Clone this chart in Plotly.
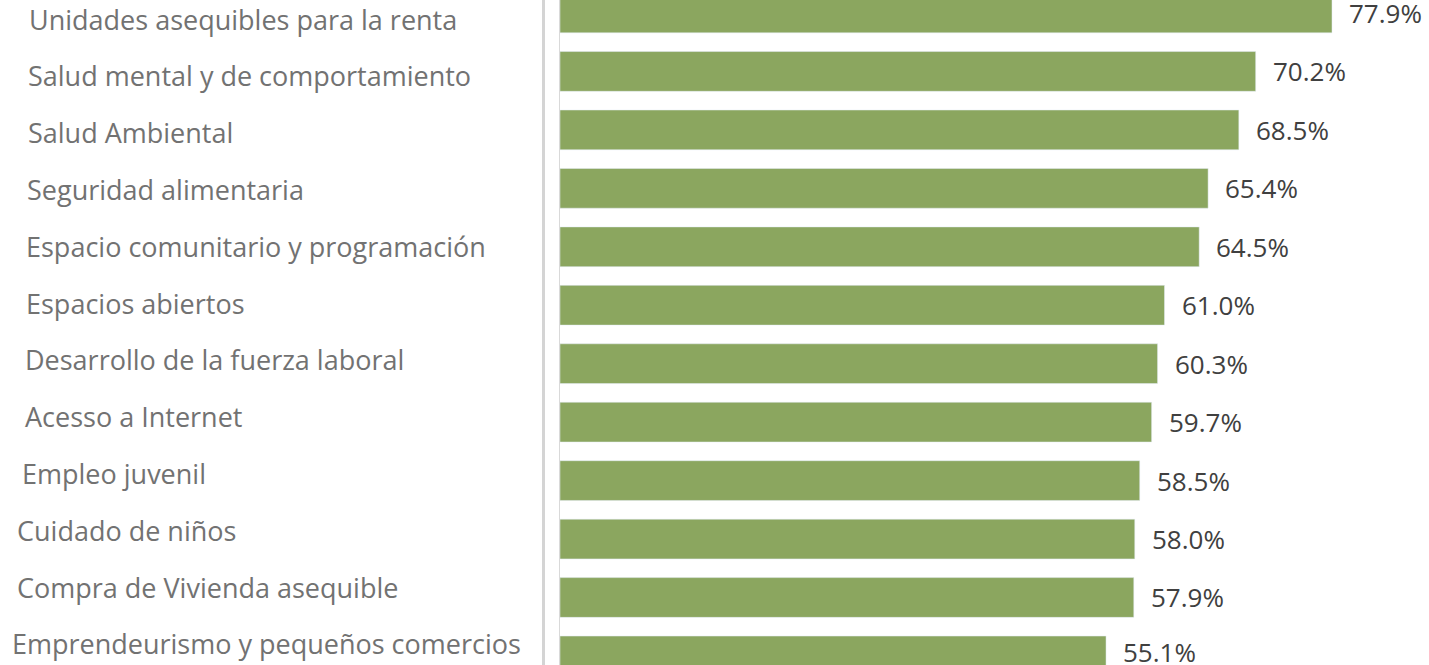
"""Horizontal bar chart: share of respondents by priority area."""

import plotly.graph_objects as go


CATEGORIES = [
    "Unidades asequibles para la renta",
    "Salud mental y de comportamiento",
    "Salud Ambiental",
    "Seguridad alimentaria",
    "Espacio comunitario y programación",
    "Espacios abiertos",
    "Desarrollo de la fuerza laboral",
    "Acesso a Internet",
    "Empleo juvenil",
    "Cuidado de niños",
    "Compra de Vivienda asequible",
    "Emprendeurismo y pequeños comercios",
]
VALUES = [77.9, 70.2, 68.5, 65.4, 64.5, 61.0, 60.3, 59.7, 58.5, 58.0, 57.9, 55.1]

# left edge (px) of each category label, they are slightly staggered in the original
LABEL_LEFT_PX = [27, 26, 26, 25, 24, 24, 23, 23, 20, 15, 15, 10]

WIDTH, HEIGHT = 1429, 665
MARGIN_L = 560
PLOT_W = WIDTH - MARGIN_L
PX_PER_PCT = 9.91
BAR_COLOR = "#8BA65F"
FONT = "Open Sans"

fig = go.Figure()

fig.add_trace(
    go.Bar(
        x=VALUES,
        y=CATEGORIES,
        orientation="h",
        marker_color=BAR_COLOR,
        width=0.68,
        hoverinfo="x+y",
    )
)

# category labels, left aligned in the area left of the plot
for i, (label, left) in enumerate(zip(CATEGORIES, LABEL_LEFT_PX)):
    y_px = 19 + i * 56.8
    fig.add_annotation(
        text=label,
        xref="paper",
        yref="paper",
        x=(left - MARGIN_L) / PLOT_W,
        y=1 - y_px / HEIGHT,
        xanchor="left",
        yanchor="middle",
        showarrow=False,
        font=dict(family=FONT, size=27, color="#727272"),
    )

# value labels (the last one sits a little high in the original)
for i, (label, value) in enumerate(zip(CATEGORIES, VALUES)):
    fig.add_annotation(
        text=f"{value:.1f}%",
        x=value,
        y=label,
        xanchor="left",
        yanchor="middle",
        xshift=15,
        yshift=4 if i == len(VALUES) - 1 else 0,
        showarrow=False,
        font=dict(family=FONT, size=26, color="#404040"),
    )

# faint separator line left of the axis
fig.add_shape(
    type="line",
    xref="paper",
    yref="paper",
    x0=(543.5 - MARGIN_L) / PLOT_W,
    x1=(543.5 - MARGIN_L) / PLOT_W,
    y0=0,
    y1=1,
    line=dict(color="#d4d4d4", width=3),
)

fig.update_layout(
    width=WIDTH,
    height=HEIGHT,
    margin=dict(l=MARGIN_L, r=0, t=0, b=0),
    paper_bgcolor="white",
    plot_bgcolor="white",
    showlegend=False,
    xaxis=dict(
        range=[0, PLOT_W / PX_PER_PCT],
        showgrid=False,
        zeroline=False,
        showticklabels=False,
        showline=False,
    ),
    yaxis=dict(
        type="category",
        categoryorder="array",
        categoryarray=CATEGORIES,
        range=[11.155, -0.222],
        showgrid=False,
        zeroline=False,
        showticklabels=False,
        showline=True,
        linecolor="#d9d9d9",
        linewidth=1,
    ),
)

# drop the default page margin so the figure sits at the window's corner
fig.write_html(
    "out.html",
    config={"displayModeBar": False},
    post_script="document.body.style.margin = '0';",
)
